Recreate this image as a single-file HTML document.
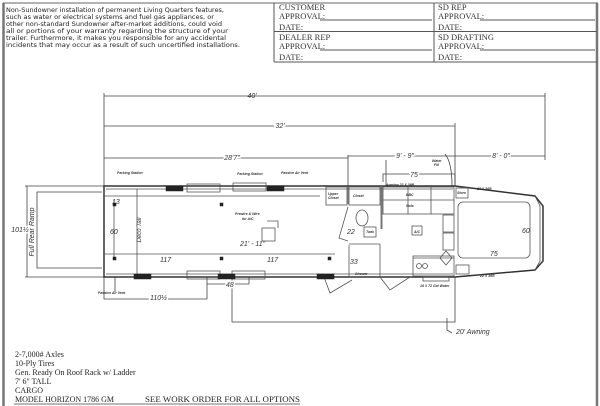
<!DOCTYPE html>
<html><head><meta charset="utf-8"><style>
html,body{margin:0;padding:0;background:#fff;}
svg{display:block;}
.s{font-family:"DejaVu Sans",sans-serif;}
.r{font-family:"Liberation Serif",serif;}
.i{font-family:"Liberation Sans",sans-serif;font-style:italic;}
</style></head><body>
<svg width="600" height="406" viewBox="0 0 600 406" xmlns="http://www.w3.org/2000/svg">
<rect width="600" height="406" fill="#fff"/>
<line x1="3" y1="3" x2="598" y2="3" stroke="#999" stroke-width="1.5"/>
<line x1="3.5" y1="3" x2="3.5" y2="406" stroke="#777" stroke-width="2.5"/>
<line x1="597" y1="3" x2="597" y2="406" stroke="#777" stroke-width="2.5"/>
<g class="s" font-size="6" fill="#222" lengthAdjust="spacingAndGlyphs">
<text x="6" y="12" textLength="218" lengthAdjust="spacingAndGlyphs">Non-Sundowner installation of permanent Living Quarters features,</text>
<text x="6" y="19" textLength="208" lengthAdjust="spacingAndGlyphs">such as water or electrical systems and fuel gas appliances, or</text>
<text x="6" y="26" textLength="216" lengthAdjust="spacingAndGlyphs">other non-standard Sundowner after-market additions, could void</text>
<text x="6" y="33" textLength="222" lengthAdjust="spacingAndGlyphs">all or portions of your warranty regarding the structure of your</text>
<text x="6" y="40" textLength="220" lengthAdjust="spacingAndGlyphs">trailer.  Furthermore, it makes you responsible for any accidental</text>
<text x="6" y="47" textLength="234" lengthAdjust="spacingAndGlyphs">incidents that may occur as a result of such uncertified installations.</text>
</g>
<g stroke="#555" stroke-width="1" fill="none">
<line x1="274" y1="3" x2="274" y2="62"/>
<line x1="434" y1="3" x2="434" y2="62"/>
<line x1="274" y1="31.5" x2="597" y2="31.5"/>
<line x1="274" y1="62" x2="597" y2="62"/>
<line x1="320" y1="20" x2="432" y2="20"/>
<line x1="480" y1="20" x2="595" y2="20"/>
<line x1="320" y1="50" x2="432" y2="50"/>
<line x1="480" y1="50" x2="595" y2="50"/>
</g>
<g class="r" font-size="8.5" fill="#333">
<text x="279" y="10">CUSTOMER</text><text x="279" y="19">APPROVAL:</text><text x="279" y="30">DATE:</text>
<text x="279" y="40">DEALER REP</text><text x="279" y="49">APPROVAL:</text><text x="279" y="60">DATE:</text>
<text x="438" y="10">SD REP</text><text x="438" y="19">APPROVAL:</text><text x="438" y="30">DATE:</text>
<text x="438" y="40">SD DRAFTING</text><text x="438" y="49">APPROVAL:</text><text x="438" y="60">DATE:</text>
</g>
<g stroke="#444" stroke-width="0.8" fill="none">
<path d="M104 96 H545 M104 93 V186 M545 93 V160"/>
<path d="M104 126 H455 M455 123 V186"/>
<path d="M104 158 H348 M348 155 V186 M348 156 H545"/>
<path d="M25 186 H104 M25 277 H104 M27 186 V277"/>
<path d="M102 192 H37 V268 H102"/>
<path d="M104 277 V299 H207 M115 277 V292 M207 277 V299"/>
<path d="M207 284 H249 M249 277 V284"/>
<path d="M232 277 V322 H455 V277"/>
<path d="M447 318 V330 L452 333"/>
<path d="M386 160 V186"/>
<path d="M383 182 V174 H455 V186"/>
<path d="M445 154 C450 160 452 170 452 186"/>
</g>
<g class="i" font-size="7" fill="#333">
<text x="252" y="98" text-anchor="middle">40'</text>
<text x="280" y="128" text-anchor="middle" stroke="#fff" stroke-width="3" paint-order="stroke">32'</text>
<text x="232" y="160" text-anchor="middle" stroke="#fff" stroke-width="3" paint-order="stroke">28'7"</text>
<text x="405" y="158" text-anchor="middle" stroke="#fff" stroke-width="3" paint-order="stroke">9' - 9"</text>
<text x="501" y="158" text-anchor="middle" stroke="#fff" stroke-width="3" paint-order="stroke">8' - 0"</text>
<text x="414" y="177" text-anchor="middle" stroke="#fff" stroke-width="3" paint-order="stroke">75</text>
<text x="20" y="232" text-anchor="middle" stroke="#fff" stroke-width="3" paint-order="stroke">101½</text>
<text x="150" y="300" stroke="#fff" stroke-width="3" paint-order="stroke">110½</text>
<text x="226" y="287" stroke="#fff" stroke-width="3" paint-order="stroke">48</text>
<text x="456" y="334">20'  Awning</text>
<text x="112" y="204">13</text>
<text x="110" y="234">60</text>
<text x="240" y="246" stroke="#fff" stroke-width="3" paint-order="stroke">21' - 11"</text>
<text x="160" y="262" stroke="#fff" stroke-width="3" paint-order="stroke">117</text>
<text x="267" y="262" stroke="#fff" stroke-width="3" paint-order="stroke">117</text>
<text x="347" y="234">22</text>
<text x="350" y="264">33</text>
<text x="522" y="233">60</text>
<text x="490" y="256">75</text>
</g>
<text class="i" font-size="7" fill="#333" transform="translate(34 232) rotate(-90)" text-anchor="middle">Full Rear Ramp</text>
<text class="i" font-size="6" fill="#333" transform="translate(141 230) rotate(-90)" text-anchor="middle">Deco Tail</text>
<g stroke="#333" stroke-width="1.5" fill="none">
<path d="M104 186 H455 L535 196 L543 206 V261 L535 270 L455 277 H104 Z"/>
</g>
<g stroke="#555" stroke-width="0.8" fill="none">
<line x1="106" y1="189" x2="453" y2="189"/>
<line x1="106" y1="274" x2="453" y2="274"/>
<line x1="137" y1="189" x2="137" y2="274"/>
<rect x="458" y="202" width="72" height="56" rx="5"/>
<path d="M535 196 L540 206 V261 L535 270"/>
<rect x="187" y="184" width="33" height="8"/><rect x="233" y="183" width="33" height="8"/>
<rect x="187" y="271" width="33" height="8"/><rect x="232" y="271" width="33" height="8"/>
<line x1="114" y1="200" x2="114" y2="259"/>
<path d="M104 196 H320 M104 254 H335"/>
<rect x="349" y="187" width="31" height="18"/>
<rect x="326" y="187" width="21" height="18"/>
<line x1="381" y1="187" x2="381" y2="229"/><line x1="382" y1="187" x2="382" y2="229"/>
<rect x="383" y="187" width="71" height="27"/>
<line x1="383" y1="200" x2="454" y2="200"/>
<line x1="408" y1="187" x2="408" y2="214"/><line x1="431" y1="187" x2="431" y2="214"/>
<rect x="456" y="188" width="12" height="10"/>
<rect x="443" y="215" width="11" height="17"/><rect x="443" y="233" width="11" height="17"/>
<rect x="413" y="256" width="41" height="20"/>
<line x1="413" y1="258" x2="454" y2="258"/>
<path d="M440 258 L446 251 L452 258 L446 265 Z"/>
<circle cx="419" cy="266" r="2.5"/><circle cx="425" cy="266" r="2.5"/>
<ellipse cx="362" cy="218" rx="6" ry="8"/>
<rect x="364" y="227" width="12" height="10"/>
<rect x="412" y="226" width="10" height="9"/>
<line x1="348" y1="186" x2="348" y2="204"/>
<path d="M348 207 L339 238 L348 241"/>
<path d="M349 244 H380 M349 245 V277 M380 244 V277"/>
<path d="M324 277 L330 293 L352 280"/>
<path d="M380 277 L390 290 L410 277"/>
<rect x="456" y="265" width="13" height="9"/>
<rect x="262" y="228" width="13" height="13"/>
<path d="M267 221 H278 V228"/>
<rect x="423" y="277" width="26" height="4"/>
</g>
<g fill="#222" stroke="#222" stroke-width="0.5">
<rect x="166" y="186" width="17" height="5"/><rect x="267" y="186" width="17" height="5"/>
<rect x="134" y="274" width="17" height="5"/><rect x="218" y="274" width="17" height="5"/><rect x="317" y="274" width="17" height="5"/>
<rect x="113" y="203" width="3" height="3"/><rect x="113" y="257" width="3" height="3"/>
<rect x="220" y="203" width="3" height="3"/><rect x="220" y="257" width="3" height="3"/><rect x="328" y="257" width="3" height="3"/>
</g>
<g class="i" font-size="3.5" fill="#333" font-weight="bold">
<text x="117" y="174">Parking Station</text>
<text x="237" y="175">Parking Station</text>
<text x="281" y="174">Passive Air Vent</text>
<text x="235" y="215">Prewire &amp; Wire</text><text x="242" y="220">for A/C</text>
<text x="386" y="186">Awning 22 X 36R</text>
<text x="432" y="162">Water</text><text x="434" y="166">Fill</text>
<text x="353" y="197">Closet</text>
<text x="328" y="195">Upper</text><text x="328" y="199">Closet</text>
<text x="406" y="196">BBC</text><text x="406" y="207">Sofa</text>
<text x="457" y="194">Store</text>
<text x="414" y="233">A/C</text>
<text x="366" y="233">Tank</text>
<text x="355" y="275">Shower</text>
<text x="477" y="190">22 X 36R</text>
<text x="480" y="277">22 X 36R</text>
<text x="420" y="287">16 X 72 Gal Water</text>
<text x="98" y="294">Passive Air Vent</text>
</g>
<g class="r" font-size="8" fill="#222">
<text x="15" y="357">2-7,000# Axles</text>
<text x="15" y="366">10-Ply Tires</text>
<text x="15" y="375">Gen. Ready On Roof Rack w/ Ladder</text>
<text x="15" y="384">7' 6" TALL</text>
<text x="15" y="393">CARGO</text>
<text x="15" y="402">MODEL HORIZON 1786 GM</text>
<text x="145" y="402" textLength="155" lengthAdjust="spacingAndGlyphs">SEE WORK ORDER FOR ALL OPTIONS</text>
</g>
<line x1="14" y1="404" x2="300" y2="404" stroke="#444" stroke-width="0.8"/>
</svg>
</body></html>
